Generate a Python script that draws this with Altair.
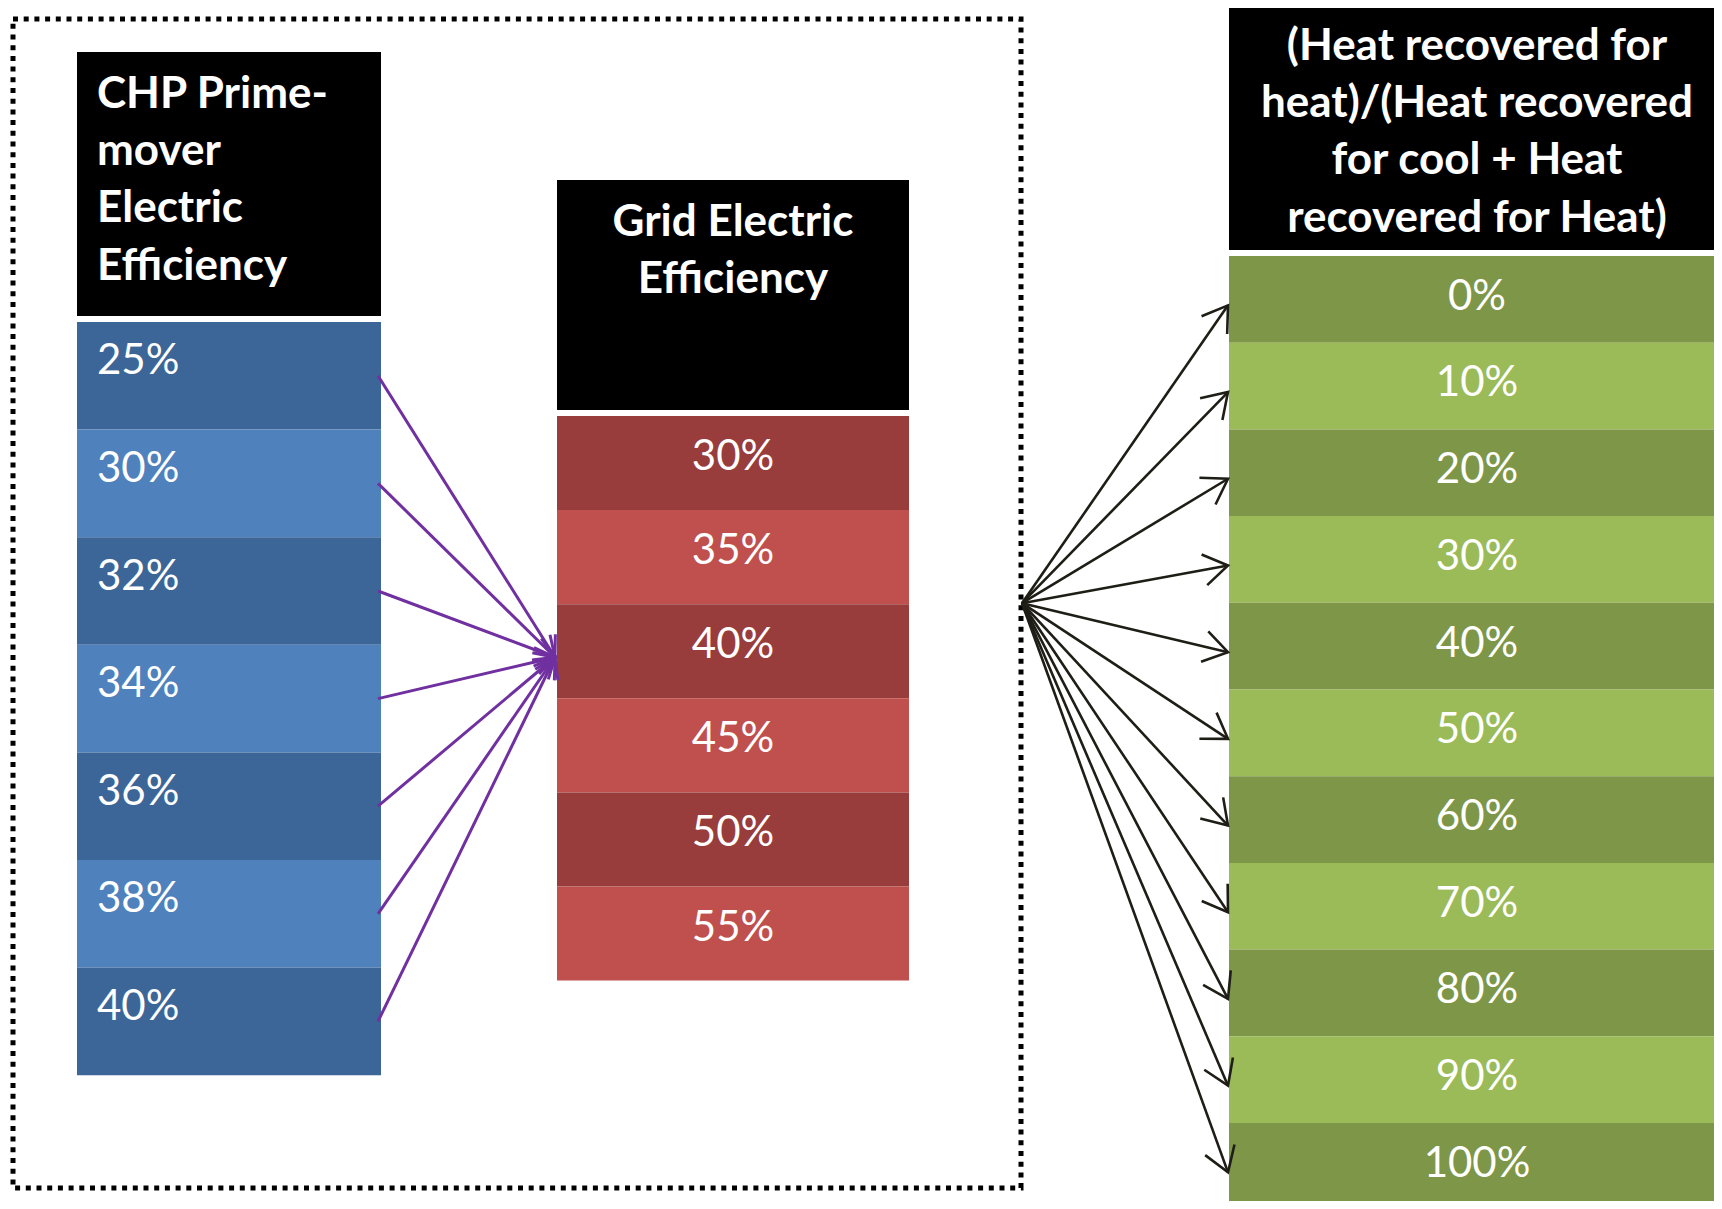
import math
import altair as alt
import pandas as pd

# ---------------- data ----------------
chp_title = ["CHP Prime-", "mover", "Electric", "Efficiency"]
chp_values = ["25%", "30%", "32%", "34%", "36%", "38%", "40%"]
grid_title = ["Grid Electric", "Efficiency"]
grid_values = ["30%", "35%", "40%", "45%", "50%", "55%"]
heat_title = ["(Heat recovered for", "heat)/(Heat recovered", "for cool + Heat", "recovered for Heat)"]
heat_values = ["0%", "10%", "20%", "30%", "40%", "50%", "60%", "70%", "80%", "90%", "100%"]
grid_target = "40%"

# ---------------- layout (pixel space of the picture) ----------------
W, H = 1722, 1209
M = 8
LAYOUT = {
    "chp":  dict(x0=77,   x1=381,  hy0=52,  hy1=316, top=322, h=107.6, tx=97,   ty0=95,  align="left",   off=0.367),
    "grid": dict(x0=557,  x1=909,  hy0=180, hy1=410, top=416, h=94.1,  tx=733,  ty0=223, align="center", off=0.436),
    "heat": dict(x0=1229, x1=W - M, hy0=M,  hy1=250, top=256, h=86.7,  tx=1477, ty0=47,  align="center", off=0.47),
}
LINE_H = 57.2
COLORS = {
    "chp0": "#3D6698", "chp1": "#4F81BD",
    "grid0": "#983C3C", "grid1": "#C0504D",
    "heat0": "#7E9647", "heat1": "#9BBB59",
}

cols = {"chp": (chp_title, chp_values), "grid": (grid_title, grid_values), "heat": (heat_title, heat_values)}

cells, headers, htext, vtext = [], [], [], []
for key, (title, values) in cols.items():
    L = LAYOUT[key]
    headers.append(dict(x0=L["x0"], x1=L["x1"], y0=L["hy0"], y1=L["hy1"]))
    for j, line in enumerate(title):
        htext.append(dict(col=key, x=L["tx"], y=L["ty0"] + j * LINE_H, text=line, align=L["align"]))
    for i, v in enumerate(values):
        y0 = L["top"] + i * L["h"]
        y1 = min(y0 + L["h"], H - M)
        cells.append(dict(col=key, shade=f"{key}{i % 2}", x0=L["x0"], x1=L["x1"], y0=y0, y1=y1))
        vtext.append(dict(col=key, x=L["tx"], y=y0 + L["off"] * L["h"], text=v, align=L["align"]))

cells = pd.DataFrame(cells)
headers = pd.DataFrame(headers)
htext = pd.DataFrame(htext)
vtext = pd.DataFrame(vtext)

# links
G = LAYOUT["grid"]
ti = grid_values.index(grid_target)
end_purple = (G["x0"] - 2, G["top"] + (ti + 0.5) * G["h"] + 6)
origin_black = (1022, G["top"] + ti * G["h"] - 1)

links = []
C = LAYOUT["chp"]
for i, v in enumerate(chp_values):
    links.append(dict(kind="p", x=C["x1"] - 3, y=C["top"] + (i + 0.5) * C["h"],
                      x2=end_purple[0], y2=end_purple[1]))
Hh = LAYOUT["heat"]
for i, v in enumerate(heat_values):
    links.append(dict(kind="b", x=origin_black[0], y=origin_black[1],
                      x2=Hh["x0"] - 1, y2=Hh["top"] + (i + 0.5) * Hh["h"] + 6))
links = pd.DataFrame(links)
links["ang"] = [math.degrees(math.atan2(r.y2 - r.y, r.x2 - r.x)) % 360 for r in links.itertuples()]

frame = pd.DataFrame([dict(x0=13, x1=1021, y0=19, y1=1188)])

# ---------------- chart ----------------
xs = alt.Scale(domain=[M, W - M], nice=False, zero=False)
ys = alt.Scale(domain=[M, H - M], nice=False, zero=False, reverse=True)
X = lambda f: alt.X(f, type="quantitative", scale=xs, axis=None)
Y = lambda f: alt.Y(f, type="quantitative", scale=ys, axis=None)

frame_l = alt.Chart(frame).mark_rect(fillOpacity=0, stroke="black", strokeWidth=5,
                                     strokeDash=[5, 5.7]).encode(
    x=X("x0"), x2="x1", y=Y("y0"), y2="y1")

cells_l = alt.Chart(cells).mark_rect().encode(
    x=X("x0"), x2="x1", y=Y("y0"), y2="y1",
    color=alt.Color("shade:N", scale=alt.Scale(domain=list(COLORS.keys()), range=list(COLORS.values())),
                    legend=None))

head_l = alt.Chart(headers).mark_rect(color="black").encode(
    x=X("x0"), x2="x1", y=Y("y0"), y2="y1")

FONT = "Lato"
def text_layers(df, weight, size):
    out = []
    for al in ["left", "center"]:
        sub = df[df["align"] == al]
        out.append(alt.Chart(sub).mark_text(align=al, baseline="middle", font=FONT, fontWeight=weight,
                                            fontSize=size, color="white").encode(
            x=X("x"), y=Y("y"), text="text:N"))
    return out

lines_p = alt.Chart(links[links.kind == "p"]).mark_rule(color="#7030A0", strokeWidth=3).encode(
    x=X("x"), y=Y("y"), x2="x2", y2="y2")
lines_b = alt.Chart(links[links.kind == "b"]).mark_rule(color="#1E1E16", strokeWidth=2.6).encode(
    x=X("x"), y=Y("y"), x2="x2", y2="y2")

CHEV = "M-1,-0.65L0,0L-1,0.65"
heads_p = alt.Chart(links[links.kind == "p"]).mark_point(shape=CHEV, filled=False, size=1500,
                                                         color="#7030A0", strokeWidth=3, opacity=1).encode(
    x=X("x2"), y=Y("y2"), angle=alt.Angle("ang:Q", scale=None))
heads_b = alt.Chart(links[links.kind == "b"]).mark_point(shape=CHEV, filled=False, size=2300,
                                                         color="#1E1E16", strokeWidth=2.6, opacity=1).encode(
    x=X("x2"), y=Y("y2"), angle=alt.Angle("ang:Q", scale=None))

layers = [frame_l, cells_l, head_l] + text_layers(htext, "bold", 44) + text_layers(vtext, "normal", 42) + \
         [lines_p, lines_b, heads_p, heads_b]

chart = alt.layer(*layers).properties(
    width=W - 2 * M, height=H - 2 * M, padding=0, background="white",
    autosize=alt.AutoSizeParams(type="none"),
).configure_view(stroke=None)

chart.save("out.html", embed_options={"renderer": "svg", "actions": False})
